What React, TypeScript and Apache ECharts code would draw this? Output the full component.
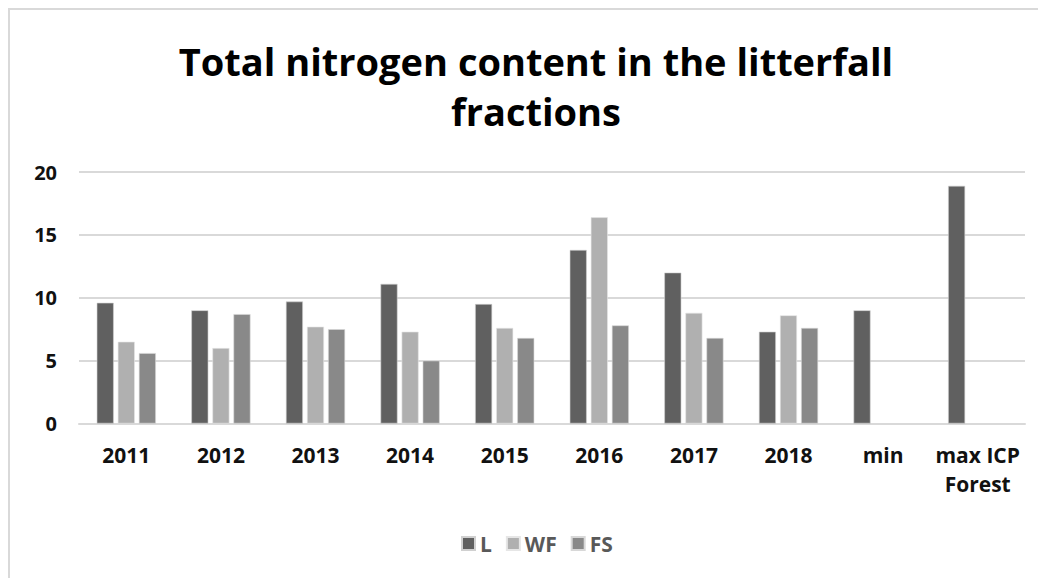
import React, { useEffect, useRef } from "react";
import * as echarts from "echarts";

const categories = ["2011", "2012", "2013", "2014", "2015", "2016", "2017", "2018", "min", "max ICP Forest"];
const seriesL = [9.6, 9.0, 9.7, 11.1, 9.5, 13.8, 12.0, 7.3, 9.0, 18.9];
const seriesWF: (number | null)[] = [6.5, 6.0, 7.7, 7.3, 7.6, 16.4, 8.8, 8.6, null, null];
const seriesFS: (number | null)[] = [5.6, 8.7, 7.5, 5.0, 6.8, 7.8, 6.8, 7.6, null, null];
const yTicks = [0, 5, 10, 15, 20];

export default function App() {
  const ref = useRef<HTMLDivElement>(null);
  useEffect(() => {
    if (!ref.current) return;
    const chart = echarts.init(ref.current, null, { renderer: "svg" });
    const font = "'Open Sans', Lato, sans-serif";
    chart.setOption({
      animation: false,
      backgroundColor: "#ffffff",
      title: {
        text: "Total nitrogen content in the litterfall\nfractions",
        left: 521,
        top: 21,
        textAlign: "center",
        textStyle: {
          fontFamily: font,
          fontWeight: "bold",
          fontSize: 38,
          lineHeight: 50,
          color: "#000000",
        },
      },
      legend: {
        left: 446,
        top: 518,
        itemWidth: 13,
        itemHeight: 13,
        itemGap: 14,
        icon: "rect",
        textStyle: { fontFamily: font, fontWeight: "bold", fontSize: 21, color: "#595959" },
        data: ["L", "WF", "FS"],
      },
      grid: { left: 69, top: 162, width: 946, height: 251.5, containLabel: false },
      xAxis: {
        type: "category",
        data: categories,
        axisLine: { lineStyle: { color: "#d9d9d9", width: 2 } },
        axisTick: { show: false },
        axisLabel: {
          fontFamily: font,
          fontWeight: "bold",
          fontSize: 21,
          lineHeight: 29,
          color: "#111111",
          margin: 17,
          interval: 0,
          formatter: (v: string) => (v === "max ICP Forest" ? "max ICP\nForest" : v),
        },
      },
      yAxis: {
        type: "value",
        min: yTicks[0],
        max: yTicks[yTicks.length - 1],
        interval: 5,
        axisLine: { show: false },
        axisTick: { show: false },
        splitLine: { lineStyle: { color: "#d9d9d9", width: 2 } },
        axisLabel: {
          fontFamily: font,
          fontWeight: "bold",
          fontSize: 20,
          color: "#111111",
          margin: 22,
        },
      },
      series: [
        {
          name: "L",
          type: "bar",
          data: seriesL,
          barWidth: 17,
          barGap: "24%",
          itemStyle: { color: "#606060", borderColor: "#d0d0d0", borderWidth: 0.6 },
        },
        {
          name: "WF",
          type: "bar",
          data: seriesWF,
          barWidth: 17,
          barGap: "24%",
          itemStyle: { color: "#b0b0b0", borderColor: "#e6e6e6", borderWidth: 0.6 },
        },
        {
          name: "FS",
          type: "bar",
          data: seriesFS,
          barWidth: 17,
          barGap: "24%",
          itemStyle: { color: "#898989", borderColor: "#d8d8d8", borderWidth: 0.6 },
        },
      ],
    });
    return () => chart.dispose();
  }, []);
  return (
    <div
      style={{
        width: 1040,
        height: 580,
        border: "2px solid #d9d9d9",
        background: "#ffffff",
      }}
    >
      <div ref={ref} style={{ width: 1040, height: 580 }} />
    </div>
  );
}
